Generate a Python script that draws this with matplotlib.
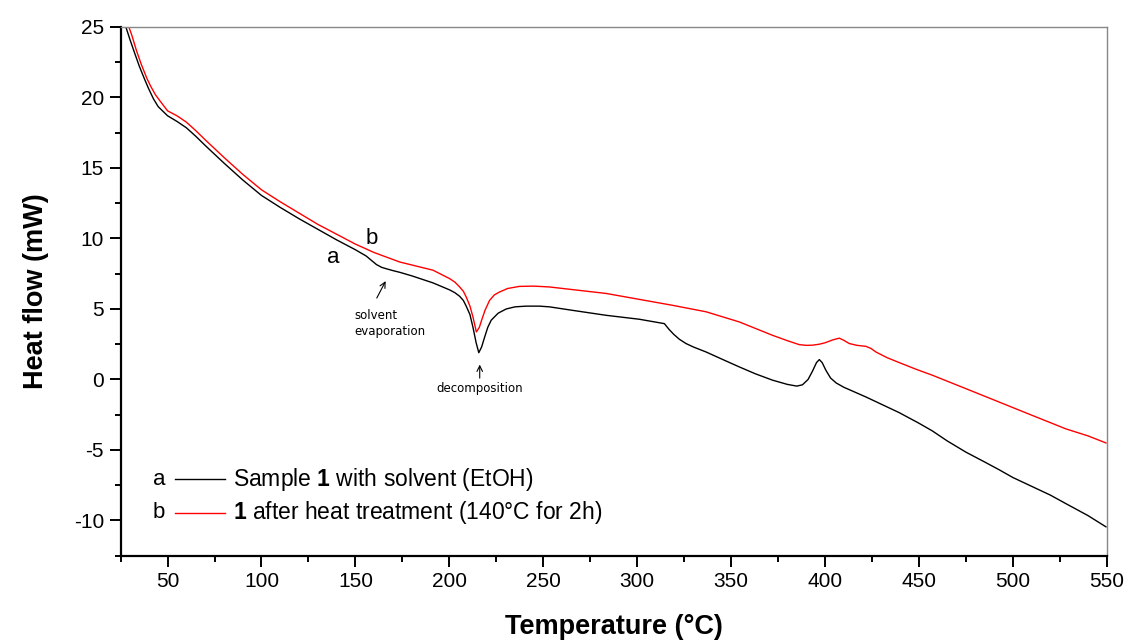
import matplotlib
matplotlib.use("Agg")
import matplotlib.pyplot as plt
from matplotlib.ticker import MultipleLocator

plt.rcParams['font.family'] = ['Liberation Sans', 'DejaVu Sans']
plt.rcParams['mathtext.fontset'] = 'custom'
plt.rcParams['mathtext.rm'] = 'Liberation Sans'
plt.rcParams['mathtext.bf'] = 'Liberation Sans:bold'
plt.rcParams['axes.unicode_minus'] = False

# curve a: sample 1 with solvent (EtOH)
temp_a = [27.8, 30, 32.6, 35, 37.9, 40, 42.5, 45, 50, 55, 60, 65, 70, 80, 90, 100, 110,
          120, 130, 140, 150, 155.8, 158.5, 161.2, 164, 166.5, 170, 173.6, 180, 191.3,
          200.2, 203, 205.5, 207.5, 209, 211, 212.6, 214.3, 215.7, 217.2, 218.8, 220.5,
          222.3, 226, 230.3, 235, 240.9, 248, 253.3, 265.7, 283.5, 301.2, 314.5, 317,
          319.5, 322.5, 326, 330, 336.7, 345, 354.4, 363, 372.1, 380, 385, 388, 391,
          393.4, 395.5, 397, 398.5, 400.5, 403, 406, 410, 421.8, 439.5, 450, 457.2, 465,
          475, 485, 492.7, 500, 510.4, 520, 528.2, 540, 549.6]
heat_a = [25.0, 24.1, 23.1, 22.2, 21.25, 20.6, 19.9, 19.35, 18.7, 18.3, 17.85, 17.25,
          16.6, 15.35, 14.15, 13.05, 12.2, 11.4, 10.65, 9.9, 9.2, 8.75, 8.45, 8.15, 7.95,
          7.85, 7.72, 7.6, 7.35, 6.85, 6.35, 6.15, 5.9, 5.6, 5.2, 4.6, 3.7, 2.6, 1.9, 2.3,
          3.0, 3.7, 4.2, 4.7, 5.0, 5.15, 5.2, 5.2, 5.15, 4.9, 4.55, 4.27, 3.96, 3.55, 3.2,
          2.85, 2.55, 2.3, 1.95, 1.45, 0.89, 0.4, -0.05, -0.35, -0.47, -0.38, 0.0, 0.6,
          1.2, 1.41, 1.2, 0.65, 0.1, -0.25, -0.55, -1.24, -2.35, -3.1, -3.65, -4.35, -5.15,
          -5.85, -6.4, -6.95, -7.6, -8.2, -8.8, -9.65, -10.45]

# curve b: 1 after heat treatment
temp_b = [29.4, 31, 33.5, 36, 39, 41, 43.5, 46, 50, 55, 60, 65, 70, 80, 90, 100, 110,
          120, 130, 140, 150, 160, 173.6, 191.3, 200.2, 203, 205.5, 207.5, 209, 211,
          212.6, 214.4, 216, 217.2, 219, 221.4, 224, 226.7, 231, 237.3, 245, 253.3, 283.5,
          318.8, 336.7, 354.4, 372.1, 380, 386.3, 390, 393.2, 397, 400, 404, 407.6, 410,
          412.9, 417, 421.8, 424.5, 427.1, 433, 439.5, 448, 457.2, 475, 492.7, 510.4,
          528.2, 540, 549.6]
heat_b = [25.0, 24.4, 23.3, 22.35, 21.35, 20.8, 20.2, 19.75, 19.05, 18.7, 18.25, 17.65,
          17.0, 15.75, 14.55, 13.45, 12.6, 11.8, 11.0, 10.3, 9.6, 9.0, 8.33, 7.75, 7.15,
          6.9, 6.56, 6.25, 5.85, 5.2, 4.43, 3.37, 3.7, 4.2, 4.9, 5.6, 6.0, 6.2, 6.45, 6.6,
          6.62, 6.56, 6.1, 5.26, 4.8, 4.08, 3.13, 2.75, 2.47, 2.42, 2.43, 2.5, 2.6, 2.8,
          2.93, 2.78, 2.55, 2.42, 2.35, 2.2, 1.95, 1.55, 1.2, 0.75, 0.3, -0.65, -1.6, -2.55,
          -3.5, -4.0, -4.5]

label_a = "Sample $\\mathbf{1}$ with solvent (EtOH)"
label_b = "$\\mathbf{1}$ after heat treatment (140\u00b0C for 2h)"

fig = plt.figure(figsize=(11.27, 6.41), dpi=100)
ax = fig.add_axes([0.107, 0.133, 0.875, 0.825])

ax.plot(temp_a, heat_a, color='black', lw=1.0)
ax.plot(temp_b, heat_b, color='red', lw=1.0)

ax.set_xlim(25, 550)
ax.set_ylim(-12.5, 25)
ax.xaxis.set_major_locator(MultipleLocator(50))
ax.xaxis.set_minor_locator(MultipleLocator(25))
ax.yaxis.set_major_locator(MultipleLocator(5))
ax.yaxis.set_minor_locator(MultipleLocator(2.5))
ax.tick_params(which='major', direction='out', length=8, width=1.4, labelsize=15, pad=4)
ax.tick_params(which='minor', direction='out', length=4.5, width=1.4)
ax.tick_params(top=False, right=False)

for s in ['left', 'bottom']:
    ax.spines[s].set_linewidth(1.6)
    ax.spines[s].set_color('black')
for s in ['top', 'right']:
    ax.spines[s].set_linewidth(1.0)
    ax.spines[s].set_color('#888888')

ax.set_xlabel("Temperature (\u00b0C)", fontsize=19.5, fontweight='bold', labelpad=16)
ax.set_ylabel("Heat flow (mW)", fontsize=19.5, fontweight='bold', labelpad=18)

# curve labels
ax.text(138, 8.65, "a", fontsize=16, ha='center', va='center')
ax.text(158.6, 10.0, "b", fontsize=16, ha='center', va='center')

# annotations
ax.annotate("", xy=(166.8, 7.15), xytext=(160.7, 5.6),
            arrowprops=dict(arrowstyle='->', color='black', lw=0.8))
ax.text(149.6, 5.0, "solvent\nevaporation", fontsize=8.5, family='DejaVu Sans',
        ha='left', va='top', linespacing=1.3)
ax.annotate("", xy=(216.2, 1.25), xytext=(216.2, -0.1),
            arrowprops=dict(arrowstyle='->', color='black', lw=0.8))
ax.text(216.2, -0.65, "decomposition", fontsize=8.5, family='DejaVu Sans',
        ha='center', va='center')

# legend built by hand
ax.text(0.0388, 0.145, "a", transform=ax.transAxes, fontsize=16, ha='center', va='center')
ax.text(0.0388, 0.081, "b", transform=ax.transAxes, fontsize=16, ha='center', va='center')
ax.plot([0.055, 0.106], [0.145, 0.145], color='black', lw=1.0, transform=ax.transAxes)
ax.plot([0.055, 0.106], [0.081, 0.081], color='red', lw=1.0, transform=ax.transAxes)
ax.text(0.1139, 0.145, label_a, transform=ax.transAxes, fontsize=16.5, ha='left', va='center')
ax.text(0.1139, 0.081, label_b, transform=ax.transAxes, fontsize=16.5, ha='left', va='center')

fig.savefig("out.png", dpi=100)
